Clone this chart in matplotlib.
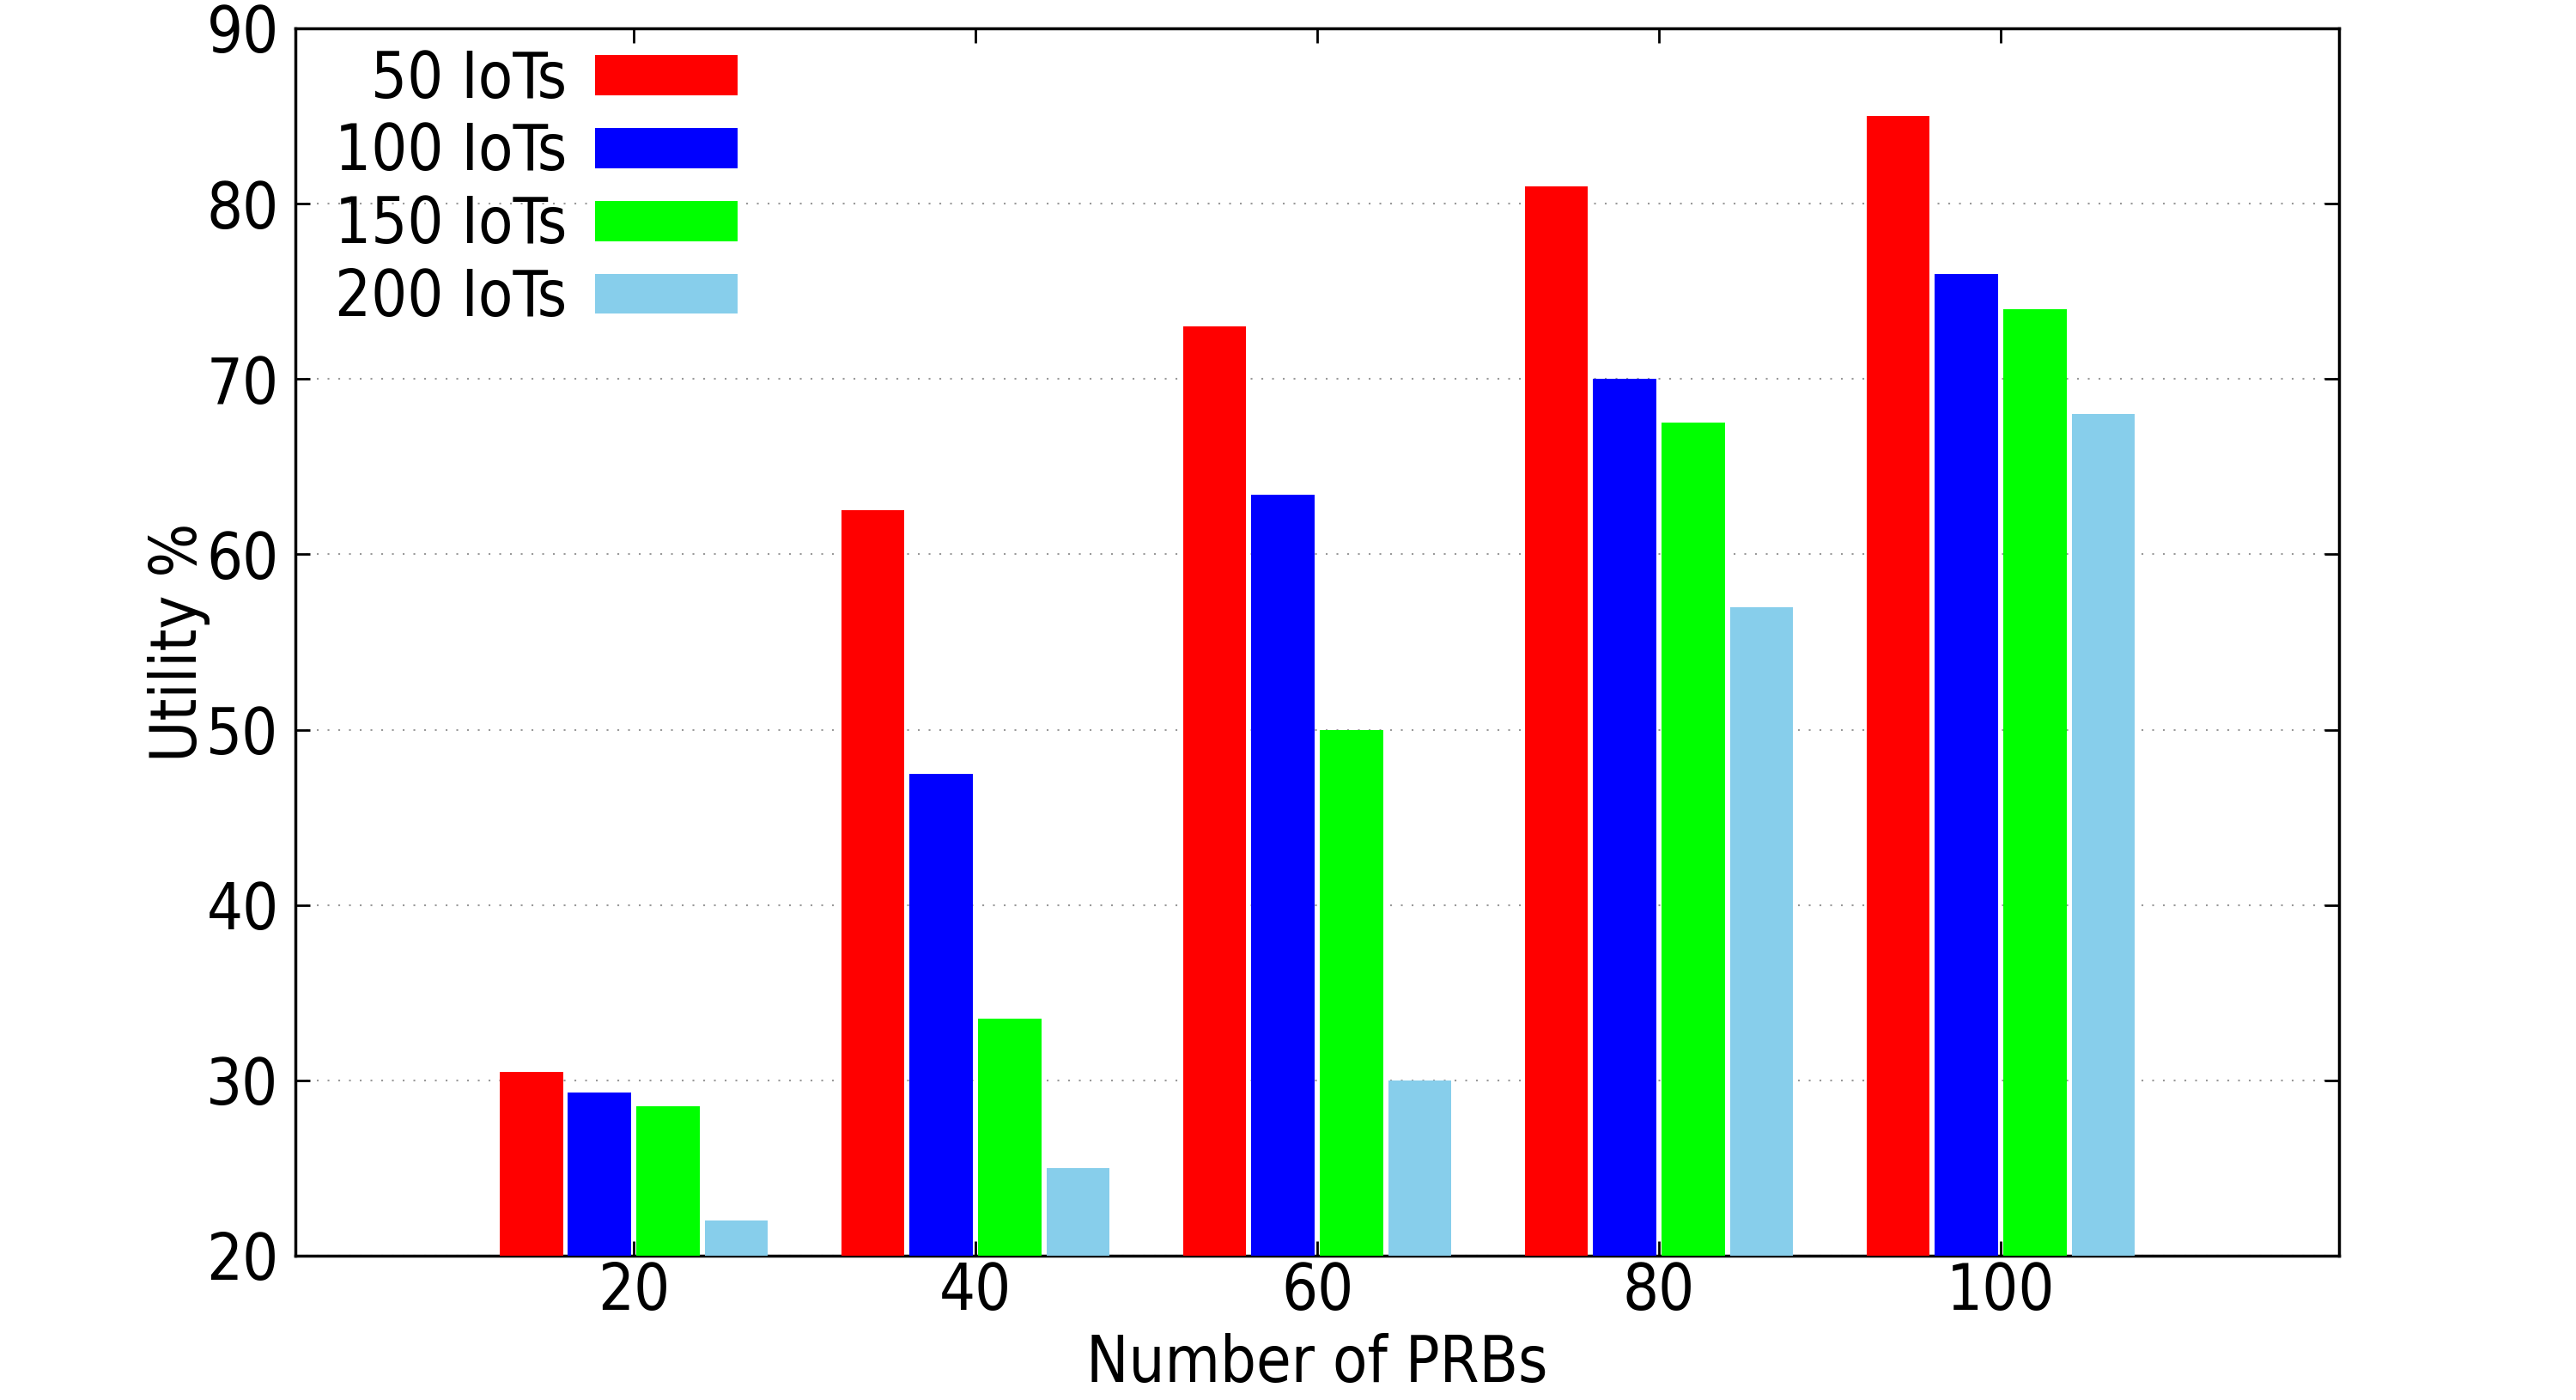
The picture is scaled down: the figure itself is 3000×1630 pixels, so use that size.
import os
os.environ.setdefault("MPLBACKEND", "Agg")
import numpy as np
import matplotlib.pyplot as plt

# values
prbs = ["20", "40", "60", "80", "100"]
series_names = ["50 IoTs", "100 IoTs", "150 IoTs", "200 IoTs"]
iot_50 = [30.5, 62.5, 73.0, 81.0, 85.0]
iot_100 = [29.3, 47.5, 63.4, 70.0, 76.0]
iot_150 = [28.5, 33.5, 50.0, 67.5, 74.0]
iot_200 = [22.0, 25.0, 30.0, 57.0, 68.0]
colours = ["#ff0000", "#0000ff", "#00ff00", "#87ceeb"]
yticks = [20, 30, 40, 50, 60, 70, 80, 90]

plt.rcParams["font.family"] = ["DejaVu Sans"]
plt.rcParams["font.stretch"] = "condensed"
FS = 53

fig = plt.figure(figsize=(30, 16.3), dpi=100)
ax = fig.add_axes([0.1147, 0.1031, 0.9080 - 0.1147, 0.9798 - 0.1031])

x = np.arange(len(prbs))
width = 0.2
for i, (name, vals, col) in enumerate(zip(series_names,
                                          [iot_50, iot_100, iot_150, iot_200],
                                          colours)):
    ax.bar(x + (i - 1.5) * width, np.array(vals) - 20, bottom=20,
           width=0.185, color=col, label=name, zorder=3)

ax.set_xlim(-0.99, len(prbs) - 1 + 0.99)
ax.set_ylim(20, 90)
ax.set_xticks(x)
ax.set_xticklabels(prbs)
ax.set_yticks(yticks)
ax.yaxis.grid(True, linestyle=(0, (1, 5)), color="#999999", linewidth=1.5, zorder=0)
ax.tick_params(axis="both", direction="in", length=12, width=2,
               top=True, right=True, labelsize=FS)
ax.tick_params(axis="x", pad=4)
ax.tick_params(axis="y", pad=14)
for sp in ax.spines.values():
    sp.set_linewidth(2.5)

ax.set_xlabel("Number of PRBs", fontsize=FS, labelpad=8)
ax.set_ylabel("Utility %", fontsize=FS, labelpad=-3)

leg = ax.legend(loc="upper left", bbox_to_anchor=(0.0068, 1.004), frameon=False,
                markerfirst=False, fontsize=FS, handlelength=2.25,
                handleheight=0.6, labelspacing=0.16, handletextpad=0.45,
                borderaxespad=0.0)
for t in leg.get_texts():
    t.set_ha("right")

fig.savefig("out.png", dpi=100, facecolor="white")
